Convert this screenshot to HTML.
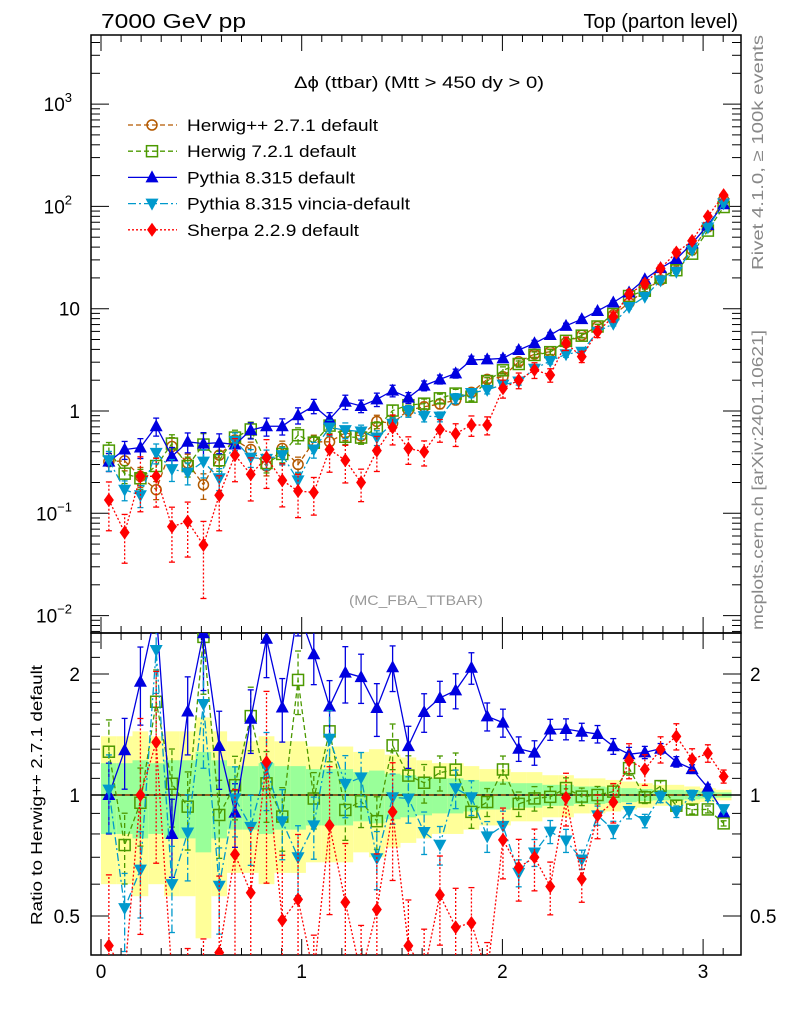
<!DOCTYPE html>
<html><head><meta charset="utf-8"><style>
html,body{margin:0;padding:0;background:#fff;overflow:hidden;width:786px;height:1024px;}
svg{display:block;font-family:"Liberation Sans",sans-serif;}
</style></head><body>
<svg id="chart" width="786" height="1024" viewBox="0 0 786 1024" xmlns="http://www.w3.org/2000/svg">
<defs>
<clipPath id="clipMain"><rect x="91" y="35" width="650" height="598"/></clipPath>
<clipPath id="clipRatio"><rect x="91" y="633" width="650" height="322"/></clipPath>
</defs>
<text x="101" y="28" font-size="20" textLength="145" lengthAdjust="spacingAndGlyphs">7000 GeV pp</text>
<text x="738" y="28" font-size="20" text-anchor="end">Top (parton level)</text>
<text transform="translate(763,35) rotate(-90)" text-anchor="end" font-size="16" fill="#888" textLength="235" lengthAdjust="spacingAndGlyphs">Rivet 4.1.0, ≥ 100k events</text>
<text transform="translate(763,630) rotate(-90)" font-size="16" fill="#888" textLength="300" lengthAdjust="spacingAndGlyphs">mcplots.cern.ch [arXiv:2401.10621]</text>
<text x="349" y="605" font-size="14" fill="#999" textLength="134" lengthAdjust="spacingAndGlyphs">(MC_FBA_TTBAR)</text>
<text transform="translate(42,925) rotate(-90)" font-size="16" textLength="260" lengthAdjust="spacingAndGlyphs">Ratio to Herwig++ 2.7.1 default</text>
<g id="bands"></g>
<g id="axes"></g>
<g id="series"></g>
<g id="legend"></g>
</svg>
<script>
const NS="http://www.w3.org/2000/svg";
const nBins=40;
const herwigpp=[0.32,0.325,0.23,0.17,0.45,0.31,0.19,0.37,0.52,0.42,0.29,0.43,0.30,0.50,0.50,0.61,0.57,0.79,0.76,1.02,1.10,1.17,1.28,1.52,2.04,2.16,3.03,3.6,3.8,4.66,5.5,6.7,8.7,11.4,15.2,19.1,25.3,37.5,63,116];
const herwig7=[0.41,0.244,0.22,0.29,0.48,0.29,0.47,0.33,0.55,0.66,0.31,0.38,0.58,0.49,0.72,0.56,0.55,0.68,1.01,1.14,1.18,1.33,1.48,1.38,1.96,2.5,2.88,3.53,3.76,4.85,5.45,6.7,8.87,13.3,15.0,20.1,23.8,34.5,58,98.6];
const pythia=[0.32,0.42,0.44,0.71,0.36,0.50,0.48,0.49,0.47,0.65,0.71,0.71,0.91,1.12,0.83,1.23,1.12,1.30,1.58,1.35,1.77,2.04,2.33,3.15,3.20,3.27,3.95,4.59,5.53,6.8,7.9,9.5,11.5,14.4,19.4,24.9,30.6,43.5,65.7,105];
const vincia=[0.33,0.17,0.15,0.39,0.27,0.25,0.32,0.22,0.51,0.35,0.34,0.37,0.21,0.42,0.69,0.65,0.63,0.55,0.75,1.0,0.89,0.88,1.33,1.50,1.61,1.81,1.94,2.59,3.08,3.59,3.8,5.96,7.13,10.4,13.1,18.9,23,37.5,62.4,107];
const sherpa=[0.135,0.065,0.23,0.23,0.074,0.083,0.049,0.15,0.37,0.24,0.35,0.21,0.165,0.16,0.42,0.33,0.20,0.41,0.69,0.43,0.40,0.66,0.60,0.73,0.73,1.67,2.0,2.52,2.25,4.59,3.4,5.96,8.35,13.9,17.6,24.8,35.4,46,80,129];
const relErr=[0.20,0.20,0.22,0.20,0.22,0.22,0.28,0.22,0.18,0.18,0.20,0.18,0.18,0.16,0.16,0.16,0.14,0.15,0.13,0.12,0.11,0.10,0.10,0.09,0.08,0.08,0.07,0.07,0.06,0.06,0.05,0.05,0.045,0.04,0.035,0.03,0.03,0.025,0.02,0.015];
const xTicks=[0,1,2,3];
const mainTicks=[{v:1000,t:"10",e:"3"},{v:100,t:"10",e:"2"},{v:10,t:"10",e:""},{v:1,t:"1",e:""},{v:0.1,t:"10",e:"−1"},{v:0.01,t:"10",e:"−2"}];
const ratioTicks=[2,1,0.5];

const xS=v=>101+200.7*v;
const yM=v=>Math.min(660,Math.max(10,411-102.3*Math.log10(v)));
const yR=r=>Math.min(975,Math.max(610,795-121*Math.log2(r)));
const binC=i=>(i+0.5)*Math.PI/nBins;
const binW=Math.PI/nBins;

function mk(tag,attrs,parent){const e=document.createElementNS(NS,tag);for(const k in attrs)e.setAttribute(k,attrs[k]);parent.appendChild(e);return e;}

const bands=document.getElementById('bands');
bands.setAttribute('clip-path','url(#clipRatio)');
for(let i=0;i<nBins;i++){
  const x0=xS(i*binW),x1=xS((i+1)*binW);
  const e=relErr[i];
  const y=mk('rect',{x:x0,y:yR(1+2*e),width:x1-x0,height:yR(Math.max(0.05,1-2*e))-yR(1+2*e),fill:'#ffff99'},bands);
  
  
  const g=mk('rect',{x:x0,y:yR(1+e),width:x1-x0,height:yR(1-e)-yR(1+e),fill:'#99ff99'},bands);
  
  
}

const ax=document.getElementById('axes');
mk('rect',{x:91,y:35,width:650,height:598,fill:'none',stroke:'#000','stroke-width':1.5},ax);
mk('rect',{x:91,y:633,width:650,height:322,fill:'none',stroke:'#000','stroke-width':1.5},ax);
mk('line',{x1:91,x2:741,y1:795,y2:795,stroke:'#000','stroke-width':1.5},ax);
for(let k=0;k<=31;k++){
  const v=k/10,x=xS(v);if(x>741)break;
  const L=(k%10==0)?16:7;
  for(const [yb,dir] of [[633,-1],[955,-1],[35,1],[633,1]]){
    mk('line',{x1:x,x2:x,y1:yb,y2:yb+dir*L,stroke:'#000','stroke-width':1},ax);
  }
}
xTicks.forEach(v=>{const t=mk('text',{x:xS(v),y:978,'font-size':19,'text-anchor':'middle'},ax);t.textContent=v;

});
for(let d=-3;d<=3;d++){
  for(let m=1;m<10;m++){
    const v=m*Math.pow(10,d),y=411-102.3*Math.log10(v);
    if(y<35||y>633)continue;
    const L=m==1?18:9;
    mk('line',{x1:91,x2:91+L,y1:y,y2:y,stroke:'#000'},ax);
    mk('line',{x1:741,x2:741-L,y1:y,y2:y,stroke:'#000'},ax);
  }
}
mainTicks.forEach(o=>{
  const t=mk('text',{x:80,y:yM(o.v)+7,'font-size':19,'text-anchor':'end'},ax);
  if(o.e){t.textContent=o.t;const s=mk('tspan',{dy:-9,'font-size':13},t);s.textContent=o.e;t.setAttribute('x',72);}else t.textContent=o.t;
  
  
});
[0.5,0.6,0.7,0.8,0.9,1,1.1,1.2,1.3,1.4,1.5,1.6,1.7,1.8,1.9,2,2.2,2.4].forEach(r=>{
  const y=yR(r);const L=(r==0.5||r==1||r==2)?18:9;
  mk('line',{x1:91,x2:91+L,y1:y,y2:y,stroke:'#000'},ax);
  mk('line',{x1:741,x2:741-L,y1:y,y2:y,stroke:'#000'},ax);
});
ratioTicks.forEach(r=>{
  const t=mk('text',{x:80,y:yR(r)+7,'font-size':19,'text-anchor':'end'},ax);t.textContent=r;
  
  
  const t2=mk('text',{x:750,y:yR(r)+7,'font-size':19},ax);t2.textContent=r;
  
  
});

const seriesDefs=[
 {name:'herwigpp',data:herwigpp,color:'#b35900',dash:'5,3',marker:'circle',ef:1,label:'Herwig++ 2.7.1 default',tl:191},
 {name:'herwig7',data:herwig7,color:'#4c9900',dash:'5,3',marker:'square',ef:1,label:'Herwig 7.2.1 default',tl:169},
 {name:'pythia',data:pythia,color:'#0000e0',dash:'',marker:'tri',ef:1,label:'Pythia 8.315 default',tl:168},
 {name:'vincia',data:vincia,color:'#0099cc',dash:'8,3,2,3',marker:'dtri',ef:1.1,label:'Pythia 8.315 vincia-default',tl:223},
 {name:'sherpa',data:sherpa,color:'#ff0000',dash:'2,2',marker:'diamond',ef:2.5,label:'Sherpa 2.2.9 default',tl:172}
];
function marker(g,type,x,y,c){
  let e;
  if(type=='circle')e=mk('circle',{cx:x,cy:y,r:5,fill:'none',stroke:c,'stroke-width':1.5},g);
  else if(type=='square')e=mk('rect',{x:x-5.5,y:y-5.5,width:11,height:11,fill:'none',stroke:c,'stroke-width':1.5},g);
  else if(type=='tri')e=mk('polygon',{points:`${x},${y-7} ${x-6.5},${y+5} ${x+6.5},${y+5}`,fill:c},g);
  else if(type=='dtri')e=mk('polygon',{points:`${x},${y+7} ${x-6.5},${y-5} ${x+6.5},${y-5}`,fill:c},g);
  else e=mk('polygon',{points:`${x},${y-7} ${x-5},${y} ${x},${y+7} ${x+5},${y}`,fill:c},g);
  return e;
}
const sg=document.getElementById('series');
seriesDefs.forEach(s=>{
  for(const panel of ['main','ratio']){
    const g=mk('g',{'clip-path':panel=='main'?'url(#clipMain)':'url(#clipRatio)'},sg);
    
    
    const pts=s.data.map((v,i)=>{
      const x=xS(binC(i));
      const val=panel=='main'?v:v/herwigpp[i];
      const yy=panel=='main'?yM(val):yR(val);
      const e=relErr[i]*s.ef;
      const lo=Math.max(val*(1-e),1e-4),hi=val*(1+e);
      const ylo=panel=='main'?yM(lo):yR(lo),yhi=panel=='main'?yM(hi):yR(hi);
      return {x,yy,ylo,yhi};
    });
    const pl=mk('polyline',{points:pts.map(p=>p.x+','+p.yy).join(' '),fill:'none',stroke:s.color,'stroke-width':1.3,'stroke-dasharray':s.dash},g);
    
    
    pts.forEach(p=>{
      if(panel=='ratio'&&s.name=='herwigpp')return;
      mk('line',{x1:p.x,x2:p.x,y1:p.ylo,y2:p.yhi,stroke:s.color,'stroke-width':1.3,'stroke-dasharray':s.dash},g);
      mk('line',{x1:p.x-3,x2:p.x+3,y1:p.ylo,y2:p.ylo,stroke:s.color,'stroke-width':1.3},g);
      mk('line',{x1:p.x-3,x2:p.x+3,y1:p.yhi,y2:p.yhi,stroke:s.color,'stroke-width':1.3},g);
      const m=marker(g,s.marker,p.x,p.yy,s.color);
      
      
    });
  }
});

const lg=document.getElementById('legend');
const tt=mk('text',{x:294,y:88,'font-size':17,textLength:250,lengthAdjust:'spacingAndGlyphs'},lg);
tt.textContent='Δϕ (ttbar) (Mtt > 450 dy > 0)';


seriesDefs.forEach((s,k)=>{
  const y=125+k*26.2;
  const g=mk('g',{},lg);
  
  
  mk('line',{x1:128,x2:177,y1:y,y2:y,stroke:s.color,'stroke-width':1.3,'stroke-dasharray':s.dash},g);
  marker(g,s.marker,152,y,s.color);
  const t=mk('text',{x:187,y:y+6,'font-size':17,textLength:s.tl,lengthAdjust:'spacingAndGlyphs'},g);t.textContent=s.label;
});
</script>
</body></html>
